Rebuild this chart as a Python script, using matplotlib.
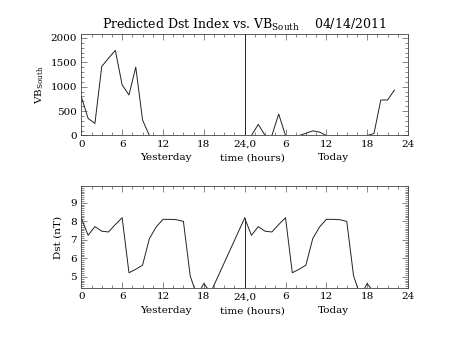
import numpy as np
import matplotlib
matplotlib.use("Agg")
import matplotlib.pyplot as plt
from matplotlib.ticker import MultipleLocator

plt.rcParams['font.family'] = 'DejaVu Serif'
plt.rcParams['mathtext.fontset'] = 'dejavuserif'

# hours since start of yesterday (0-24 yesterday, 24-48 today)
hours_yest = list(range(0, 24))
vb_yest = [795, 350, 247, 1413, 1586, 1743, 1036, 830, 1400, 315, 0, 0,
           0, 0, 0, 0, 0, 0, 0, 0, 0, 0, 0, 0]
hours_today = list(range(24, 47))
vb_today = [0, 0, 227, 0, 0, 439, 0, 0, 0, 45, 95, 70,
            0, 0, 0, 0, 0, 0, 0, 40, 727, 727, 931]

# Dst: hours 20-23 of yesterday have no values
dst_hours_yest = list(range(0, 20)) + [24]
dst_yest = [8.17, 7.24, 7.71, 7.46, 7.42, 7.82, 8.19, 5.22, 5.41, 5.63,
            7.06, 7.69, 8.10, 8.10, 8.08, 7.99, 5.05, 3.96, 4.64, 4.15, 8.17]
dst_hours_today = list(range(24, 44))
dst_today = [8.17, 7.24, 7.71, 7.46, 7.42, 7.82, 8.19, 5.22, 5.41, 5.63,
             7.06, 7.69, 8.10, 8.10, 8.08, 7.99, 5.05, 3.96, 4.64, 4.15]

xtick_pos = [0, 6, 12, 18, 24, 30, 36, 42, 48]
xtick_lab = ['0', '6', '12', '18', '24,0', '6', '12', '18', '24']

fig = plt.figure(figsize=(4.53, 3.40), dpi=100)
ax1 = fig.add_axes([0.1795, 0.6015, 0.7212, 0.2985])
ax2 = fig.add_axes([0.1795, 0.152, 0.7212, 0.301])

lc = '#222222'
ax1.plot(hours_yest, vb_yest, color=lc, lw=0.7)
ax1.plot(hours_today, vb_today, color=lc, lw=0.7)
ax1.axvline(24, color=lc, lw=0.7)
ax1.set_ylim(0, 2080)
ax1.yaxis.set_major_locator(MultipleLocator(500))
ax1.yaxis.set_minor_locator(MultipleLocator(100))
ax1.set_ylabel(r'VB$_{\mathrm{South}}$', fontsize=7.5, labelpad=3)
ax1.set_title(r'Predicted Dst Index vs. VB$_{\mathrm{South}}$    04/14/2011',
              fontsize=9, pad=4)

ax2.plot(dst_hours_yest, dst_yest, color=lc, lw=0.7)
ax2.plot(dst_hours_today, dst_today, color=lc, lw=0.7)
ax2.set_ylim(4.38, 9.9)
ax2.vlines(24, 4.38, dst_today[0], color=lc, lw=0.7)
ax2.yaxis.set_major_locator(MultipleLocator(1))
ax2.yaxis.set_minor_locator(MultipleLocator(0.1))
ax2.set_ylabel('Dst (nT)', fontsize=7.5, labelpad=6)

for ax in (ax1, ax2):
    ax.set_xlim(0, 48)
    ax.set_xticks(xtick_pos)
    ax.set_xticklabels(xtick_lab)
    ax.xaxis.set_minor_locator(MultipleLocator(1.5))
    ax.tick_params(which='both', direction='in', top=True, right=True,
                   labelsize=7.5, width=0.5, color='#555555', pad=3)
    ax.tick_params(which='major', length=4)
    ax.tick_params(which='minor', length=2)
    for s in ax.spines.values():
        s.set_linewidth(0.6)
        s.set_color('#444444')
    for fx, txt in [(0.258, 'Yesterday'), (0.524, 'time (hours)'), (0.773, 'Today')]:
        ax.annotate(txt, xy=(fx, 0), xycoords='axes fraction', xytext=(0, -18),
                    textcoords='offset points', ha='center', va='baseline', fontsize=7.5)

fig.savefig('out.png', dpi=100)
